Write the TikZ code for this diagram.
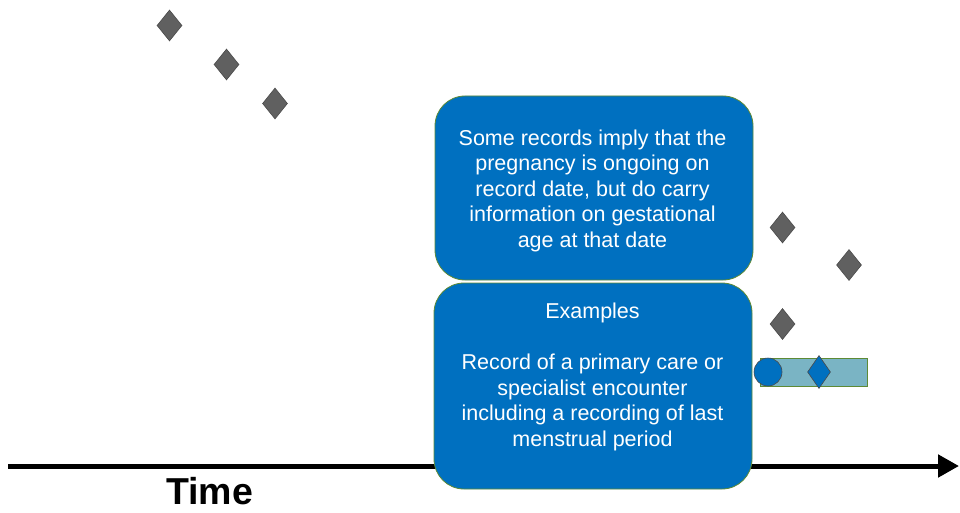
\documentclass[tikz,border=0pt]{standalone}
\usepackage{fontspec}
\setmainfont{Liberation Sans}
\usetikzlibrary{shapes.geometric,arrows.meta}
\definecolor{boxblue}{HTML}{0070C0}
\definecolor{boxedge}{HTML}{5E8A35}
\definecolor{markgray}{HTML}{606060}
\definecolor{markedge}{HTML}{4A4A4A}
\definecolor{spanfill}{HTML}{7AB4C4}
\tikzset{
  x=1pt, y=-1pt,
  gem/.style={diamond, fill=markgray, draw=markedge, line width=0.6pt,
    minimum width=25pt, minimum height=31pt, inner sep=0pt, aspect=0.8},
  bluegem/.style={gem, fill=boxblue, minimum width=23pt, minimum height=33pt},
  infobox/.style={rounded corners=30pt, fill=boxblue, draw=boxedge, line width=0.8pt},
  boxtext/.style={text=white, font=\fontsize{21.5}{25.5}\selectfont, align=center}
}
\begin{document}
\begin{tikzpicture}
\useasboundingbox (0,0) rectangle (960,513);

% time axis
\coordinate (t0) at (8,466);
\coordinate (t1) at (959,466);
\draw[line width=5pt, -{Triangle[length=21pt,width=22pt]}] (t0) -- (t1);
\node[font=\fontsize{37.5}{40}\selectfont\bfseries, anchor=base] (time) at (209.5,504) {Time};

% record markers, upper left
\node[gem] (d1) at (169.5,25.5) {};
\node[gem] (d2) at (226.5,64.5) {};
\node[gem] (d3) at (275,103.5) {};

% explanation boxes
\draw[infobox] (435,96) rectangle (753,280);
\node[boxtext] (desc) at (592.5,190.5) {Some records imply that the\\pregnancy is ongoing on\\record date, but do carry\\information on gestational\\age at that date};
\draw[infobox] (434,283) rectangle (752,489);
\node[boxtext] (ex) at (592.5,377) {Examples\\[25.5pt]Record of a primary care or\\specialist encounter\\including a recording of last\\menstrual period};

% record markers, right
\node[gem] (d4) at (782.5,227.5) {};
\node[gem] (d5) at (849,265) {};
\node[gem] (d6) at (782.5,324) {};

% pregnancy span with start marker and record
\node[draw=boxedge, fill=spanfill, line width=0.8pt, minimum width=107pt, minimum height=28pt, inner sep=0pt] (span) at (813.5,372) {};
\node[circle, fill=boxblue, draw=markedge, line width=0.6pt, minimum size=28pt, inner sep=0pt] (start) at (768,372) {};
\node[bluegem] (rec) at (819,372) {};
\end{tikzpicture}
\end{document}
